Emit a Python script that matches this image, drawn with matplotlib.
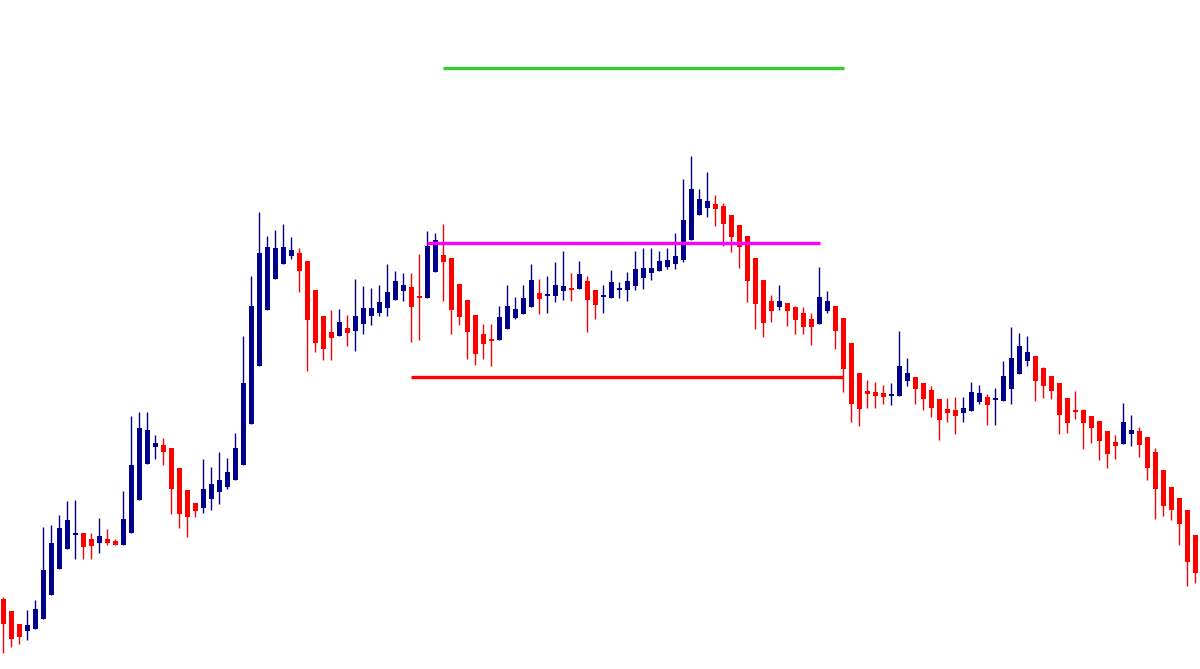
import numpy as np
import matplotlib
matplotlib.use("Agg")
import matplotlib.pyplot as plt

# bougies OHLC (unités de prix arbitraires)
open_ = [101, 89, 76, 69, 71, 81, 105, 131, 151, 165, 167, 161, 157, 161, 159, 155, 167, 200, 236, 253,
         255, 252, 232, 210, 197, 192, 201, 208, 213, 220, 235, 276, 334, 390, 421, 436, 444, 447, 439, 410,
         384, 368, 364, 372, 369, 376, 384, 387, 392, 400, 409, 413, 404, 402, 428, 445, 442, 416, 400, 385,
         366, 361, 360, 371, 382, 386, 393, 407, 404, 404, 409, 412, 411, 419, 410, 403, 402, 410, 410, 414,
         422, 427, 429, 433, 436, 440, 460, 485, 492, 496, 494, 485, 475, 464, 442, 420, 399, 393, 397, 393,
         387, 381, 376, 389, 394, 382, 357, 327, 309, 308, 307, 304, 304, 319, 323, 317, 310, 301, 291, 290,
         287, 289, 298, 303, 300, 299, 311, 326, 339, 344, 332, 324, 317, 302, 290, 290, 284, 279, 269, 258,
         256, 266, 269, 263, 248, 230, 213, 202, 190, 165]
high = [103, 89, 76, 90, 100, 173, 175, 185, 199, 200, 167, 167, 182, 171, 161, 209, 284, 288, 288, 265,
        262, 252, 232, 210, 197, 241, 233, 248, 242, 267, 364, 424, 488, 464, 470, 476, 463, 452, 439, 410,
        384, 390, 391, 385, 421, 414, 412, 415, 436, 429, 427, 427, 446, 469, 467, 476, 442, 416, 400, 385,
        376, 376, 394, 415, 403, 415, 436, 421, 424, 438, 449, 427, 439, 424, 410, 415, 430, 418, 428, 449,
        452, 452, 449, 452, 467, 521, 544, 511, 528, 505, 497, 485, 475, 464, 442, 420, 405, 415, 397, 394,
        393, 387, 433, 409, 394, 382, 357, 327, 320, 318, 315, 317, 369, 342, 323, 317, 314, 301, 302, 303,
        303, 318, 315, 306, 312, 339, 373, 367, 364, 344, 333, 324, 317, 302, 309, 291, 284, 279, 269, 265,
        297, 285, 273, 263, 252, 230, 213, 202, 190, 165]
low = [47, 53, 56, 60, 71, 81, 105, 131, 151, 141, 141, 141, 147, 155, 155, 155, 167, 200, 236, 241,
       235, 186, 172, 163, 183, 187, 190, 196, 211, 220, 235, 276, 334, 390, 421, 436, 441, 408, 329, 348,
       340, 340, 364, 354, 349, 366, 375, 384, 384, 400, 399, 358, 360, 402, 428, 399, 366, 375, 341, 335,
       341, 334, 360, 371, 381, 386, 393, 386, 387, 398, 400, 399, 411, 368, 381, 387, 402, 402, 399, 410,
       411, 420, 429, 431, 431, 438, 460, 485, 483, 474, 454, 448, 432, 398, 371, 363, 378, 390, 374, 366,
       366, 355, 376, 387, 351, 308, 278, 274, 292, 292, 296, 295, 304, 314, 296, 290, 283, 260, 278, 266,
       278, 289, 296, 275, 275, 299, 296, 326, 334, 299, 302, 301, 266, 267, 281, 251, 257, 240, 232, 241,
       256, 254, 243, 220, 181, 184, 180, 155, 114, 117]
close = [76, 61, 63, 75, 91, 130, 157, 172, 180, 167, 153, 154, 164, 157, 155, 181, 235, 272, 270, 257,
         248, 211, 186, 183, 189, 211, 216, 220, 228, 252, 317, 394, 447, 453, 452, 453, 450, 429, 380, 357,
         351, 362, 378, 367, 384, 392, 392, 398, 408, 419, 415, 393, 402, 454, 460, 438, 390, 383, 368, 346,
         356, 359, 383, 394, 391, 402, 420, 401, 406, 415, 414, 410, 426, 400, 395, 404, 418, 411, 419, 431,
         432, 432, 439, 440, 444, 480, 511, 501, 499, 491, 476, 463, 453, 419, 396, 377, 389, 399, 389, 380,
         373, 373, 403, 399, 369, 331, 296, 291, 306, 304, 303, 306, 334, 327, 311, 301, 292, 280, 287, 284,
         292, 308, 307, 295, 301, 324, 342, 354, 348, 319, 314, 309, 285, 277, 288, 277, 272, 259, 246, 254,
         278, 270, 255, 232, 211, 194, 190, 176, 138, 127]

# niveaux horizontaux tracés à la main : (prix, bougie début, bougie fin, couleur)
levels = [632, 457, 323]
level_start = [55, 53, 51]
level_end = [105.1, 102.1, 105]
level_colors = ['#33cc33', '#ff00ff', '#ff0000']

BULL = '#00008b'
BEAR = '#ff0000'


def plot_candles(ax):
    o = np.array(open_, dtype=float)
    h = np.array(high, dtype=float)
    l = np.array(low, dtype=float)
    c = np.array(close, dtype=float)
    x = np.arange(len(o))
    colors = [BULL if cc >= oo else BEAR for oo, cc in zip(o, c)]

    # mèches
    ax.vlines(x, l, h, colors=colors, linewidth=1.0, zorder=2)

    # corps (hauteur minimale pour les dojis)
    bottom = np.minimum(o, c)
    height = np.maximum(np.abs(c - o), 1.6)
    ax.bar(x, height, bottom=bottom, width=0.62, color=colors,
           linewidth=0, zorder=3)


def main():
    fig = plt.figure(figsize=(12, 6.69), dpi=100)
    ax = fig.add_axes([0, 0, 1, 1])

    plot_candles(ax)

    for lvl, x0, x1, col in zip(levels, level_start, level_end, level_colors):
        ax.hlines(lvl, x0, x1, colors=col, linewidth=2.4, zorder=4)

    ax.set_xlim(-0.41, 149.6)
    ax.set_ylim(31, 700)
    ax.axis('off')

    fig.savefig('out.png', dpi=100, facecolor='white')


if __name__ == "__main__":
    main()
